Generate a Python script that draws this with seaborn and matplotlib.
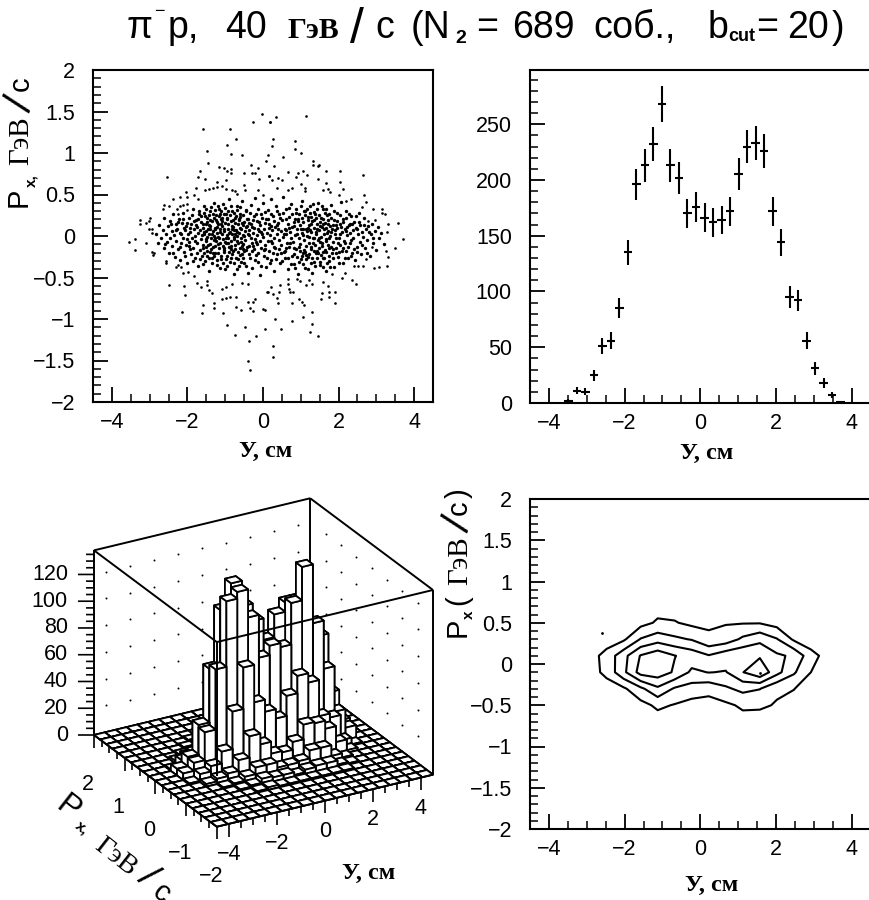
import numpy as np
import seaborn as sns
import matplotlib
matplotlib.use("Agg")
import matplotlib.pyplot as plt
from matplotlib.ticker import MultipleLocator
from mpl_toolkits.mplot3d import proj3d

# ---------- data ----------
# (y, px) dots, upper-left panel: sparse outskirts
outer_dots = [(-.02,1.47),(-.26,1.37),(.18,1.37),(-1.58,1.29),(-.87,1.29),(-.72,1.17),(-.96,1.10),(-1.49,1.02),(-.84,.99),(-.56,.98),(.14,.97),(.08,.90),(-1.46,.88),(-.33,.86),(-1.16,.83),(-1.03,.82),(-.85,.81),(-.14,.82),(-1.68,.78),(-.96,.78),(-.84,.76),(-.50,.76),(-.28,.76),(-.21,.76),(.16,.72),(-2.54,.71),(-1.71,.71),(-1.53,.69),(-.98,.68),(-.10,.69),(-1.23,.65),(-.50,.61),(-1.77,.58),(-1.53,.55),(-1.44,.57),(-1.33,.58),(-1.21,.59),(-1.09,.60),(-.98,.57),(-.83,.55),(-.74,.54),(-.70,.51),(-.47,.55),(-.12,.55),(.01,.50),(-2.03,.53),(-2.19,.47),(-2.37,.44),(-2.02,.47),(-1.83,.50),(-1.71,.44),(-2.62,.37),(-2.49,.36),(-2.65,.32),(-2.21,.36),(-2.02,.38),(-2.11,.37),(-2.27,.33),(-2.02,.31),(-2.24,.27),(-3.25,.19),(-3.25,.14),(-3.10,.16),(-2.99,.22),(-3.01,.18),(-3.03,.09),(-2.93,.09),(-2.93,.04),
(.34,1.43),(.19,1.37),(1.13,1.45),(.26,1.17),(.85,1.14),(.24,1.09),(.84,1.05),(1.0,1.0),(.54,.95),(1.33,.90),(1.33,.86),(1.45,.84),(1.47,.86),(.30,.84),(1.68,.78),(2.03,.78),(2.65,.73),(.67,.77),(.93,.76),(1.05,.78),(1.17,.74),(.87,.71),(.17,.72),(.23,.67),(.41,.70),(.49,.68),(1.46,.69),(1.68,.64),(2.03,.65),(1.0,.63),(.36,.58),(.76,.58),(.67,.55),(1.11,.58),(1.11,.54),(1.60,.55),(1.73,.57),(1.77,.53),(2.11,.57),(2.01,.49),(2.68,.50),(2.72,.41),(2.61,.35),(2.32,.44),(2.20,.42),(2.92,.32),(3.14,.32),(3.14,.28),(3.24,.26),(3.58,.16),(3.30,.14),(3.27,.05),(2.96,.19),(2.79,.18),
(-3.54,-.07),(-3.39,-.04),(-3.40,-.17),(-3.10,-.08),(-2.95,-.19),(-2.88,-.20),(-2.92,-.23),(-2.57,-.32),(-2.56,-.30),(-2.50,-.59),(-2.09,-.60),(-2.06,-.71),(-2.15,-.92),(-1.58,-.83),(-1.62,-.93),(-1.31,-.81),(-1.30,-.87),(-1.07,-.93),(-.95,-1.07),(-.74,-1.19),(-.47,-1.10),(.05,-1.12),(-.19,-1.20),(-.36,-1.27),(-.39,-1.50),(-.34,-1.62),(-2.31,-.37),(-2.24,-.35),(-2.18,-.37),(-2.11,-.44),(-1.98,-.43),(-1.83,-.48),(-1.74,-.57),(-1.63,-.62),(-1.47,-.54),(-1.47,-.59),(-1.43,-.65),(-1.36,-.69),(-1.09,-.76),(-.98,-.75),(-.87,-.74),(-.71,-.74),(-.71,-.85),(-.59,-.89),(-.41,-.80),(-.34,-.87),(-.26,-.90),(-.26,-.80),(-.21,-.76),(.01,-.88),(.11,-.68),(-1.09,-.64),(-.98,-.62),(-.83,-.58),(-.56,-.57),(-.39,-.58),
(.04,-.89),(.32,-1.0),(.78,-1.03),(1.07,-.97),(1.29,-1.06),(1.30,-.91),(1.24,-1.16),(1.46,-1.20),(.26,-1.33),(.26,-1.46),(.47,-1.12),(.14,-.68),(.27,-.70),(.36,-.75),(.41,-.81),(.42,-.67),(.71,-.68),(.80,-.68),(.78,-.81),(.96,-.76),(1.02,-.79),(1.08,-.83),(1.57,-.69),(1.53,-.76),(1.74,-.67),(1.75,-.73),(1.91,-.67),(1.90,-.81),(.67,-.52),(.67,-.58),(.69,-.64),(.45,-.59),(.20,-.62),(.89,-.52),(.98,-.54),(1.14,-.59),(1.31,-.58),(1.22,-.53),(1.73,-.60),(1.60,-.56),(2.08,-.51),(2.35,-.53),(2.46,-.58),(1.82,-.46),(2.17,-.44),(2.94,-.38),(3.08,-.37),(3.27,-.36),(2.42,-.36),(2.52,-.36),(2.64,-.36),(2.73,-.28),(2.88,-.13),(3.49,-.15),(3.71,-.04),(3.32,-.25),(3.25,-.18)]

# dense core of the same panel, estimated by eye band after band
core_dots = [(-2.83,.02),(-2.78,-.09),(-2.74,.13),(-2.71,-.02),(-2.66,.07),(-2.63,-.14),(-2.61,.22),(-2.58,.03),(-2.55,-.07),(-2.52,.12),(-2.49,-.21),(-2.47,.18),(-2.45,-.03),(-2.42,.06),(-2.40,-.12),(-2.38,.27),(-2.36,.01),(-2.33,-.25),(-2.31,.14),(-2.29,-.06),(-2.27,.09),(-2.25,-.16),(-2.23,.21),(-2.21,.04),(-2.19,-.29),(-2.17,-.09),(-2.15,.16),(-2.13,-.02),(-2.11,.28),(-2.09,-.19),(-2.07,.07),(-2.05,-.11),(-2.03,.12),(-2.01,-.32),(-1.99,.02),(-1.97,.22),(-1.95,-.07),(-1.93,.05),(-1.91,-.22),(-1.90,.15),(-1.88,-.03),(-1.86,.33),(-1.84,-.14),(-1.83,.08),(-1.81,-.27),(-1.79,.00),(-1.78,.19),(-1.76,-.08),(-1.74,.11),(-1.73,-.36),(-1.71,.04),(-1.70,.27),(-1.68,-.17),(-1.67,.07),(-1.65,-.04),(-1.64,.17),(-1.62,-.24),(-1.61,.01),(-1.59,.10),(-1.58,-.11),(-1.56,.36),(-1.55,.05),(-1.53,-.30),(-1.52,.14),(-1.51,-.06),(-1.49,.22),(-1.48,-.01),(-1.47,-.18),(-1.45,.08),(-1.44,-.42),(-1.43,.03),(-1.41,.30),(-1.40,-.10),(-1.39,.12),(-1.37,-.03),(-1.36,-.26),(-1.35,.18),(-1.33,.06),(-1.32,-.13),(-1.31,.40),(-1.29,.00),(-1.28,.10),(-1.27,-.21),(-1.25,.25),(-1.24,-.06),(-1.23,.04),(-1.21,-.35),(-1.20,.15),(-1.19,-.01),(-1.17,.33),(-1.16,-.15),(-1.15,.08),(-1.13,-.08),(-1.12,.20),(-1.11,-.28),(-1.09,.02),(-1.08,.12),(-1.07,-.04),(-1.05,.38),(-1.04,-.19),(-1.03,.06),(-1.01,-.40),(-1.00,.16),(-.99,-.09),(-.97,.27),(-.96,.01),(-.95,-.24),(-.93,.09),(-.92,-.02),(-.91,.44),(-.89,-.13),(-.88,.05),(-.87,-.31),(-.85,.18),(-.84,-.06),(-.83,.30),(-.81,.03),(-.80,-.18),(-.79,.11),(-.77,-.46),(-.76,-.01),(-.75,.22),(-.73,-.11),(-.72,.07),(-.71,-.27),(-.69,.36),(-.68,.00),(-.67,-.08),(-.65,.14),(-.64,-.36),(-.63,.04),(-.61,-.15),(-.60,.26),(-.59,-.03),(-.57,.09),(-.56,-.22),(-.55,.42),(-.53,.01),(-.52,-.10),(-.51,.17),(-.49,-.33),(-.48,.06),(-.47,-.05),(-.45,.31),(-.44,-.17),(-.43,.12),(-.41,-.44),(-.40,.02),(-.39,.21),(-.37,-.12),(-.36,.07),(-.35,-.26),(-.33,.37),(-.32,-.02),(-.31,.15),(-.29,-.08),(-.28,-.38),(-.27,.04),(-.25,.24),(-.24,-.16),(-.23,.10),(-.21,-.04),(-.20,.46),(-.19,-.23),(-.17,.01),(-.16,.18),(-.15,-.10),(-.13,.33),(-.12,-.31),(-.11,.06),(-.09,-.06),(-.08,.13),(-.07,-.47),(-.05,.27),(-.04,-.15),(-.03,.03),(-.01,.40),(.00,-.01),(.02,-.24),(.03,.09),(.05,-.11),(.07,.20),(.08,-.37),(.10,.04),(.12,.31),(.13,-.06),(.15,.14),(.17,-.18),(.18,.01),(.20,.44),(.22,-.29),(.23,.07),(.25,-.09),(.27,.24),(.28,-.02),(.30,-.42),(.32,.11),(.33,-.14),(.35,.36),(.37,.03),(.38,-.22),(.40,.16),(.42,-.05),(.43,.27),(.45,-.33),(.47,.06),(.48,-.11),(.50,.19),(.52,-.01),(.53,.47),(.55,-.19),(.57,.09),(.58,-.27),(.60,.33),(.62,.02),(.63,-.08),(.65,.14),(.67,-.40),(.68,.23),(.70,-.13),(.72,.05),(.73,-.03),(.75,.38),(.77,-.24),(.78,.11),(.80,-.07),(.82,.17),(.83,-.34),(.85,.01),(.87,.28),(.88,-.16),(.90,.08),(.92,-.46),(.93,.21),(.95,-.02),(.97,-.10),(.98,.13),(1.00,-.28),(1.02,.42),(1.03,.04),(1.05,-.20),(1.06,.17),(1.08,-.05),(1.10,.30),(1.11,-.38),(1.13,.09),(1.15,-.12),(1.16,.00),(1.18,.23),(1.19,-.25),(1.21,.13),(1.23,-.08),(1.24,.36),(1.26,-.16),(1.27,.05),(1.29,-.44),(1.30,.18),(1.32,-.02),(1.34,-.31),(1.35,.10),(1.37,-.11),(1.38,.27),(1.40,.02),(1.41,-.21),(1.43,.15),(1.45,-.05),(1.46,.40),(1.48,-.14),(1.49,.07),(1.51,-.35),(1.53,.22),(1.54,-.01),(1.56,-.09),(1.57,.11),(1.59,-.26),(1.60,.32),(1.62,.03),(1.64,-.17),(1.65,.16),(1.67,-.04),(1.68,-.42),(1.70,.25),(1.72,.06),(1.73,-.11),(1.75,-.30),(1.77,.12),(1.78,.00),(1.80,.37),(1.82,-.20),(1.83,.08),(1.85,-.07),(1.87,.19),(1.89,-.37),(1.91,.02),(1.93,-.14),(1.95,.28),(1.97,.10),(1.99,-.25),(2.01,-.03),(2.03,.15),(2.05,-.11),(2.07,.41),(2.09,.05),(2.11,-.33),(2.13,.21),(2.15,-.06),(2.17,.09),(2.19,-.18),(2.21,.30),(2.23,.01),(2.25,-.27),(2.27,.13),(2.29,-.09),(2.31,.04),(2.33,.24),(2.35,-.21),(2.37,.07),(2.39,-.02),(2.42,.17),(2.44,-.29),(2.46,.10),(2.48,-.13),(2.51,.03),(2.53,.28),(2.56,-.07),(2.58,.13),(2.60,-.22),(2.63,.05),(2.65,-.01),(2.68,.22),(2.71,-.15),(2.73,.08),(2.76,-.05),(2.79,.12),(2.82,-.24),(2.85,.02),(2.88,.15),(2.92,-.08),(2.96,.06),(3.00,-.17),(3.04,.11),(3.08,-.02),(3.13,.04),(3.19,-.10),
(-2.30,.07),(-2.16,.03),(-2.02,-.04),(-1.92,.10),(-1.80,-.06),(-1.72,.20),(-1.60,-.15),(-1.54,.24),(-1.50,.06),(-1.46,-.11),(-1.42,.13),(-1.38,-.16),(-1.34,.02),(-1.30,.22),(-1.26,-.02),(-1.22,.11),(-1.18,-.10),(-1.14,.05),(-1.10,.14),(-1.06,-.12),(-1.02,.09),(-.98,-.03),(-.94,.20),(-.90,.04),(-.86,-.16),(-.82,.12),(-.78,-.04),(-.74,.16),(-.70,.05),(-.66,-.19),(-.62,.10),(-.58,-.07),(-.54,.13),(-.50,.00),(-.42,-.13),(-.30,.11),(-.18,-.07),(-.06,.05),(.06,-.16),(.16,.10),(.29,-.13),(.41,.08),(.56,.03),(.69,.10),(.81,-.15),(.91,.02),(1.01,.09),(1.09,-.17),(1.17,.06),(1.22,-.01),(1.28,.14),(1.33,-.08),(1.39,.05),(1.44,-.18),(1.50,.12),(1.55,-.12),(1.61,.08),(1.66,-.06),(1.71,.15),(1.76,-.02),(1.81,.05),(1.86,-.16),(1.92,.13),(1.98,-.08),(2.04,.02),(2.12,-.15),(2.22,.11),(2.34,-.05),(2.50,.08),
(-2.10,.10),(-1.94,-.16),(-1.77,.13),(-1.57,.03),(-1.49,-.24),(-1.41,.08),(-1.31,-.05),(-1.23,.17),(-1.13,.26),(-1.03,-.14),(-.93,-.08),(-.83,.08),(-.73,.03),(-.63,.19),(-.55,-.12),(-.37,.16),(.22,.12),(.62,-.15),(1.06,.08),(1.14,-.23),(1.25,.07),(1.36,.19),(1.47,-.03),(1.58,-.19),(1.69,.04),(1.79,-.13),(1.90,.07),(2.02,-.19),(2.20,.06),
(-2.60,-.10),(-2.44,.14),(-2.37,-.20),(-2.26,.17),(-2.20,-.13),(-2.12,.20),(-2.06,-.24),(-2.00,.16),(-1.96,-.12),(-1.89,.25),(-1.85,-.30),(-1.82,.18),(-1.75,-.20),(-1.69,.30),(-1.66,-.28),(-1.63,.24),(-1.60,-.34),(-1.57,.28),(-1.55,-.20),(-1.52,.33),(-1.50,-.13),(-1.47,.17),(-1.44,-.27),(-1.42,.25),(-1.39,-.19),(-1.37,.35),(-1.35,-.32),(-1.33,.27),(-1.30,-.24),(-1.28,.31),(-1.26,-.12),(-1.24,.19),(-1.22,-.29),(-1.20,.36),(-1.18,-.20),(-1.16,.24),(-1.14,-.38),(-1.12,.30),(-1.10,-.24),(-1.08,.18),(-1.06,-.32),(-1.04,.26),(-1.02,-.17),(-1.00,.34),(-.98,-.28),(-.96,.22),(-.94,-.36),(-.92,.30),(-.90,-.19),(-.88,.25),(-.86,-.27),(-.84,.36),(-.82,-.22),(-.80,.19),(-.78,-.33),(-.76,.28),(-.74,-.16),(-.72,.24),(-.70,-.40),(-.68,.31),(-.66,-.28),(-.64,.21),(-.62,-.23),(-.60,.35),(-.58,-.31),(-.56,.16),(-.54,-.27),(-.52,.25),(-.50,-.18),(-.46,.30),(-.44,-.36),(-.42,.21),(-.38,-.22),(-.34,.28),(-.30,-.18),(-.26,.19),(-.22,-.29),(-.18,.26),(-.14,-.21),(-.10,.17),(-.06,-.36),(-.02,.22),(.02,-.17),(.06,.29),(.10,-.27),(.14,.21),(.18,-.33),(.22,.26),(.26,-.20),(.30,.18),(.34,-.28),(.38,.30),(.42,-.16),(.46,.22),(.50,-.30),(.54,.28),(.58,-.18),(.62,.20),(.66,-.26),(.70,.34),(.74,-.34),(.78,.26),(.82,-.22),(.84,.20),(.86,-.38),(.88,.32),(.90,-.25),(.92,.18),(.94,-.31),(.96,.27),(.98,-.18),(1.00,.36),(1.02,-.24),(1.04,.22),(1.06,-.34),(1.08,.30),(1.10,-.19),(1.12,.25),(1.14,-.28),(1.16,.33),(1.18,-.40),(1.20,.19),(1.22,-.22),(1.24,.28),(1.26,-.33),(1.28,.23),(1.30,-.27),(1.32,.38),(1.34,-.18),(1.36,.29),(1.38,-.36),(1.40,.22),(1.42,-.26),(1.44,.33),(1.46,-.20),(1.48,.25),(1.50,-.31),(1.52,.17),(1.54,-.23),(1.56,.36),(1.58,-.37),(1.60,.21),(1.62,-.27),(1.64,.28),(1.66,-.19),(1.68,.32),(1.70,-.33),(1.72,.19),(1.74,-.24),(1.76,.26),(1.78,-.37),(1.80,.22),(1.84,-.27),(1.88,.30),(1.92,-.21),(1.96,.18),(2.00,-.32),(2.04,.25),(2.08,-.18),(2.12,.17),(2.16,-.26),(2.20,.22),(2.24,-.13),(2.28,.27),(2.32,-.24),(2.36,.15),(2.40,-.16),(2.45,.24),(2.50,-.19),(2.55,.17),(2.61,-.11),(2.67,.13),(2.74,-.20),(2.81,.05),(2.90,-.03),
(-1.58,.14),(-1.50,-.04),(-1.40,.19),(-1.32,-.20),(-1.26,.09),(-1.17,-.02),(-1.09,.22),(-1.01,-.07),(-.93,.15),(-.85,-.12),(-.77,.07),(-.69,-.06),(-.61,.23),(-.53,-.16),(-.46,.11),(-.38,.01),(-.26,-.12),(-.14,.08),(.04,.16),(.20,-.06),(.36,.13),(.48,-.20),(.60,.07),(.71,-.09),(.83,.12),(.95,-.13),(1.07,.01),(1.19,.10),(1.27,-.13),(1.35,-.03),(1.43,.09),(1.51,-.07),(1.59,.14),(1.67,.10),(1.75,-.14),(1.84,.13),(1.94,-.02),(2.06,.11),(2.18,-.09),(2.30,.14)]

bin_centers = [-3.4875,-3.2625,-3.0375,-2.8125,-2.5875,-2.3625,-2.1375,-1.9125,-1.6875,-1.4625,-1.2375,-1.0125,-.7875,-.5625,-.3375,-.1125,.1125,.3375,.5625,.7875,1.0125,1.2375,1.4625,1.6875,1.9125,2.1375,2.3625,2.5875,2.8125,3.0375,3.2625,3.4875,3.7125]
bin_counts = [2,11,10,25,51,56,85,135,196,213,232,268,213,202,170,176,166,162,164,172,205,230,233,226,172,144,95,92,56,31,18,7,1]
bin_errors = [1.4,3.3,3.2,5,7.1,7.5,9.2,11.6,14,14.6,15.2,16.4,14.6,14.2,13,13.3,12.9,12.7,12.8,13.1,14.3,15.2,15.3,15,13.1,12,9.7,9.6,7.5,5.6,4.2,2.6,1]

# 2-D histogram read from lego + contour panels (rows: Px bins, columns: Y bins)
cell_y = [-3.375,-2.925,-2.475,-2.025,-1.575,-1.125,-.675,-.225,.225,.675,1.125,1.575,2.025,2.475,2.925,3.375]
cell_px = [1.1,.9,.7,.5,.3,.1,-.1,-.3,-.5,-.7,-.9,-1.1]
row_p11 = [0,0,0,0,1,2,1,1,1,1,1,1,1,0,0,0]
row_p09 = [0,0,0,1,2,6,5,4,4,4,5,5,2,1,0,0]
row_p07 = [0,0,1,2,5,13,11,7,7,8,11,10,4,2,0,0]
row_p05 = [0,2,4,6,14,28,26,17,19,22,22,22,12,6,2,0]
row_p03 = [1,6,10,19,56,71,60,52,30,37,60,76,56,19,6,1]
row_p01 = [5,12,34,74,116,134,115,102,86,103,110,110,89,79,35,12]
row_m01 = [5,11,32,77,126,131,110,78,85,82,113,138,94,58,24,10]
row_m03 = [1,6,10,19,47,78,50,41,34,49,62,55,28,25,6,1]
row_m05 = [0,2,4,6,14,30,22,13,12,18,29,28,22,10,2,0]
row_m07 = [0,0,1,2,5,10,10,6,6,7,13,13,5,2,0,0]
row_m09 = [0,0,0,1,2,5,4,4,2,4,5,5,2,1,0,0]
row_m11 = [0,0,0,0,1,2,1,1,1,1,1,1,1,0,0,0]
contour_levels = [24,54,84,114]
contour_specks_y = [-2.61,1.58]
contour_specks_px = [.38,-.11]

y_ticks = [-4,-2,0,2,4]
y_ticklabels = ["\u22124","\u22122","0","2","4"]
p_ticks = [-2,-1.5,-1,-.5,0,.5,1,1.5,2]
p_ticklabels = ["\u22122","\u22121.5","\u22121","\u22120.5","0","0.5","1","1.5","2"]
n_ticks = [0,50,100,150,200,250]
z_ticks = [0,20,40,60,80,100,120]

# ---------- style ----------
sns.set_theme(style="ticks", rc={"axes.linewidth":1.5,"xtick.major.width":1.3,"ytick.major.width":1.3,
    "xtick.minor.width":1.1,"ytick.minor.width":1.1})
plt.rcParams["font.family"] = ["Liberation Sans","DejaVu Sans"]
W,H = 869,900
fig = plt.figure(figsize=(W/100,H/100),dpi=100,facecolor="white")
def rect(l,t,r,b): return [l/W,1-b/H,(r-l)/W,(b-t)/H]
def put(x,y,s,**k):
    k.setdefault("color","black")
    return fig.text(x/W,1-y/H,s,**k)
SERIF = "Liberation Serif"
TICK = 15.5

def style(ax,xt,xl,yt,yl,xminor,yminor):
    ax.set_xticks(xt); ax.set_xticklabels(xl)
    ax.set_yticks(yt); ax.set_yticklabels(yl)
    ax.xaxis.set_minor_locator(MultipleLocator(xminor))
    ax.yaxis.set_minor_locator(MultipleLocator(yminor))
    ax.tick_params(axis="both",which="major",direction="in",length=10.8,labelsize=TICK,colors="black")
    ax.tick_params(axis="both",which="minor",direction="in",length=5.8,colors="black")
    ax.tick_params(axis="x",which="major",pad=7)
    ax.tick_params(axis="y",which="major",pad=13)
    ax.set_xlabel(""); ax.set_ylabel("")
    for s in ax.spines.values(): s.set_color("black")

# ---------- top left: scatter ----------
ax1 = fig.add_axes(rect(93,70,433,402))
po = np.array(outer_dots); pk = np.array(core_dots)
sns.scatterplot(x=po[:,0],y=po[:,1],ax=ax1,s=3.6,color="black",linewidth=0,marker="o")
sns.scatterplot(x=pk[:,0],y=pk[:,1],ax=ax1,s=6,color="black",linewidth=0,marker="o")
ax1.set_xlim(-4.5,4.5); ax1.set_ylim(-2,2)
style(ax1,y_ticks,y_ticklabels,p_ticks,p_ticklabels,.5,.1)

# ---------- top right: spectrum ----------
ax2 = fig.add_axes(rect(530,70,870.5,403))
ax2.errorbar(bin_centers,bin_counts,yerr=bin_errors,xerr=.1125,fmt="none",ecolor="black",elinewidth=1.5)
ax2.set_xlim(-4.5,4.5); ax2.set_ylim(0,298.6)
style(ax2,y_ticks,y_ticklabels,n_ticks,[str(v) for v in n_ticks],.5,10)

# ---------- histogram grid ----------
yc = np.arange(-4.5,4.5,.45)+.225
pc = np.arange(-2,2,.2)+.1
grid = np.zeros((20,20))
rows = [row_p11,row_p09,row_p07,row_p05,row_p03,row_p01,row_m01,row_m03,row_m05,row_m07,row_m09,row_m11]
for p,row in zip(cell_px,rows):
    j = int(np.argmin(abs(pc-p)))
    for y,v in zip(cell_y,row):
        grid[j,int(np.argmin(abs(yc-y)))] = v

# ---------- bottom right: contour ----------
ax4 = fig.add_axes(rect(530,499,870.5,829))
ax4.contour(yc,pc,grid,levels=contour_levels,colors="black",linewidths=1.5)
sns.scatterplot(x=contour_specks_y,y=contour_specks_px,ax=ax4,s=4,color="black",linewidth=0)
ax4.set_xlim(-4.5,4.5); ax4.set_ylim(-2,2)
style(ax4,y_ticks,y_ticklabels,p_ticks,p_ticklabels,.5,.1)

# ---------- bottom left: lego ----------
ZMAX = 138
ax3 = fig.add_axes(rect(0,460,440,900),projection="3d")
ax3.set_proj_type("ortho")
ax3.view_init(elev=25.1,azim=-119.6)
ax3.set_xlim(-4.5,4.5); ax3.set_ylim(-2,2); ax3.set_zlim(0,ZMAX)
ax3.set_axis_off(); ax3.patch.set_alpha(0)
ax3.computed_zorder = False
def corner(x,y,z):
    X,Y,_ = proj3d.proj_transform(x,y,z,ax3.get_proj())
    d = ax3.transData.transform((X,Y))
    return np.array([d[0],H-d[1]])
ax3.set_box_aspect((1,1,.82),zoom=1)
ax3.apply_aspect()
span = corner(4.5,-2,0)[0]-corner(-4.5,2,0)[0]
ax3.set_box_aspect((1,1,.82),zoom=339/span)
d = np.array([94,735])-corner(-4.5,2,0)
pos = ax3.get_position()
ax3.set_position([pos.x0+d[0]/W,pos.y0-d[1]/H,pos.width,pos.height])
ax3.apply_aspect()

def line3(xs,ys,zs,z,lw=1.4):
    ax3.plot(xs,ys,zs,color="black",lw=lw,zorder=z,solid_capstyle="butt")
# back walls + dots
wx,wz = np.meshgrid(np.arange(-4,5,1.),np.arange(20,121,20.))
ax3.scatter(wx.ravel(),np.full(wx.size,2.),wz.ravel(),s=2,c="black",depthshade=False,linewidths=0,zorder=1)
wp,wz = np.meshgrid(np.arange(-1.5,2,.5),np.arange(20,121,20.))
ax3.scatter(np.full(wp.size,4.5),wp.ravel(),wz.ravel(),s=2,c="black",depthshade=False,linewidths=0,zorder=1)
line3([4.5,4.5],[2,2],[0,ZMAX],2)
line3([-4.5,-4.5],[2,2],[0,ZMAX],2)
line3([4.5,4.5],[-2,-2],[0,ZMAX],2)
line3([-4.5,4.5],[2,2],[ZMAX,ZMAX],2)
line3([4.5,4.5],[2,-2],[ZMAX,ZMAX],2)
# bars, far to near
zo = 10
for i in range(19,-1,-1):
    for j in range(19,-1,-1):
        ax3.bar3d(yc[i]-.225,pc[j]-.1,0,.45,.2,grid[j,i],color="white",edgecolor="black",
                  linewidth=1.3,shade=False,zorder=zo)
        zo += 1
# front frame
line3([-4.5,-4.5],[2,-2],[ZMAX,ZMAX],zo)
line3([-4.5,4.5],[-2,-2],[ZMAX,ZMAX],zo)
line3([-4.5,-4.5],[-2,-2],[38,ZMAX],zo)
# z axis ticks: short lines running screen-left from the left corner
for z in np.arange(0,136,5.):
    L = .0645 if z%20==0 else .032
    line3([-4.5,-4.5-.87*9*L],[2,2+.494*4*L],[z,z],zo,lw=1.2)
for z in z_ticks:
    L = .105
    ax3.text(-4.5-.87*9*L,2+.494*4*L,z,str(z),ha="right",va="center",fontsize=TICK,color="black")
# floor ticks hanging down
for x in np.arange(-4,4.01,.5):
    line3([x,x],[-2,-2],[0,-9.5 if x%2==0 else -5],zo,lw=1.2)
for p in np.arange(-2,2.01,.25):
    line3([-4.5,-4.5],[p,p],[0,-9.5 if p%1==0 else -5],zo,lw=1.2)
for x,l in zip(y_ticks,y_ticklabels):
    ax3.text(x,-2,-23,l,ha="center",va="center",fontsize=TICK,color="black")
for p,l in zip([-2,-1,0,1,2],["\u22122","\u22121","0","1","2"]):
    ax3.text(-4.75,p,-36,l,ha="center",va="center",fontsize=TICK,color="black")

# ---------- text ----------
for x,y in [(266,451),(707,453),(712,885),(369,873)]:
    put(x,y,"\u0423, \u0441\u043c",family=SERIF,weight="bold",fontsize=17.5,ha="center",va="center")
# title pieces
B = 38
put(127,B,"\u03c0",fontsize=27,va="baseline")
put(154,B-22,"\u2212",fontsize=13,va="baseline")
put(168,B,"p,",fontsize=27,va="baseline")
put(225,B,"40",fontsize=27,va="baseline")
put(288,B,"\u0413\u044d\u0412",family=SERIF,weight="bold",fontsize=21.5,va="baseline")
put(350,B+5,"/",fontsize=36,va="baseline")
put(375,B,"c",fontsize=27,va="baseline")
put(411,B,"(N",fontsize=27,va="baseline")
put(455,B+5,"2",fontsize=14,weight="bold",va="baseline")
put(476,B,"=",fontsize=27,va="baseline")
put(512,B,"689",fontsize=27,va="baseline")
put(593,B,"\u0441\u043e\u0431.,",fontsize=27,va="baseline")
put(708,B,"b",fontsize=27,va="baseline")
put(728,B+3,"cut",fontsize=13,weight="bold",va="baseline")
put(756,B,"=",fontsize=27,va="baseline")
put(787,B,"20",fontsize=27,va="baseline")
put(832,B,")",fontsize=27,va="baseline")
# y label upper left
R = dict(rotation=90,va="center",ha="center")
put(19,197,"P",fontsize=21,**R)
put(31,181,"x,",fontsize=11,weight="bold",**R)
put(21,141,"\u0413\u044d\u0412",family=SERIF,fontsize=21,**R)
put(21,104,"/",fontsize=30,rotation=72,va="center",ha="center")
put(21,84,"c",fontsize=21,**R)
# y label lower right
put(458,627,"P",fontsize=21,**R)
put(469,615,"x",fontsize=11,weight="bold",**R)
put(458,600,"(",fontsize=21,**R)
put(460,561,"\u0413\u044d\u0412",family=SERIF,fontsize=21,**R)
put(459,524,"/",fontsize=30,rotation=72,va="center",ha="center")
put(459,508,"c",fontsize=21,**R)
put(459,493,")",fontsize=21,**R)
# slanted label of lego panel
S = dict(rotation=-38,va="center",ha="center",rotation_mode="anchor")
put(68,808,"P",fontsize=23,**S)
put(82,828,"x,",fontsize=11,weight="bold",**S)
put(115,857,"\u0413\u044d\u0412",family=SERIF,fontsize=20,**S)
put(147,877,"/",fontsize=27,rotation=-48,va="center",ha="center",rotation_mode="anchor")
put(161,893,"c",fontsize=21,**S)

fig.savefig("out.png",dpi=100,facecolor="white")
